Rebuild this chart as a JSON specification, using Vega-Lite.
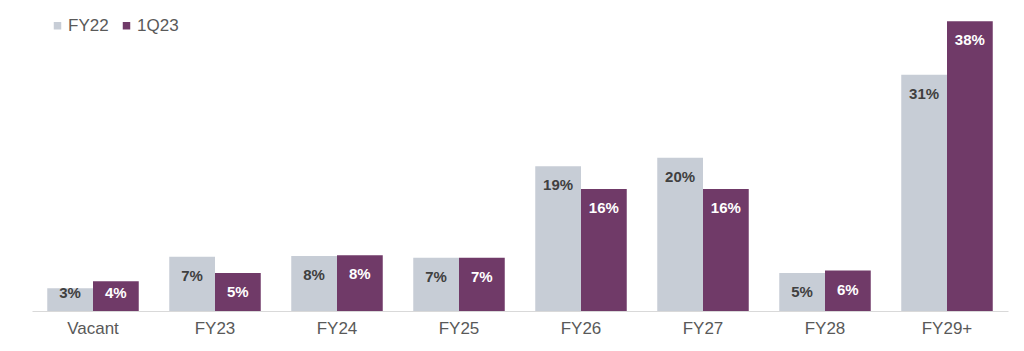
{
  "$schema": "https://vega.github.io/schema/vega-lite/v6.json",
  "autosize": {"type": "none"},
  "width": 976,
  "height": 305,
  "padding": {"left": 32, "top": 6, "right": 16, "bottom": 40},
  "background": "white",
  "config": {"view": {"stroke": null}, "font": "Liberation Sans"},
  "data": {"values": [
    {"cat": "Vacant", "series": "FY22", "value": 3.0, "label": "3%"},
    {"cat": "Vacant", "series": "1Q23", "value": 3.9, "label": "4%"},
    {"cat": "FY23", "series": "FY22", "value": 7.1, "label": "7%"},
    {"cat": "FY23", "series": "1Q23", "value": 5.0, "label": "5%"},
    {"cat": "FY24", "series": "FY22", "value": 7.2, "label": "8%"},
    {"cat": "FY24", "series": "1Q23", "value": 7.3, "label": "8%"},
    {"cat": "FY25", "series": "FY22", "value": 7.0, "label": "7%"},
    {"cat": "FY25", "series": "1Q23", "value": 7.0, "label": "7%"},
    {"cat": "FY26", "series": "FY22", "value": 19.0, "label": "19%"},
    {"cat": "FY26", "series": "1Q23", "value": 16.0, "label": "16%"},
    {"cat": "FY27", "series": "FY22", "value": 20.1, "label": "20%"},
    {"cat": "FY27", "series": "1Q23", "value": 16.0, "label": "16%"},
    {"cat": "FY28", "series": "FY22", "value": 5.0, "label": "5%"},
    {"cat": "FY28", "series": "1Q23", "value": 5.3, "label": "6%"},
    {"cat": "FY29+", "series": "FY22", "value": 31.0, "label": "31%"},
    {"cat": "FY29+", "series": "1Q23", "value": 38.0, "label": "38%"}
  ]},
  "encoding": {
    "x": {
      "field": "cat", "type": "nominal", "sort": null, "title": null,
      "scale": {"paddingInner": 0.25, "paddingOuter": 0.125},
      "axis": {"labelAngle": 0, "ticks": false, "domainColor": "#D9D9D9", "domainWidth": 1, "labelFontSize": 17, "labelColor": "#595959", "labelPadding": 9, "labelFont": "Liberation Sans"}
    },
    "xOffset": {"field": "series", "type": "nominal", "sort": ["FY22", "1Q23"]}
  },
  "layer": [
    {
      "mark": {"type": "bar"},
      "encoding": {
        "y": {"field": "value", "type": "quantitative", "scale": {"domain": [0, 40], "nice": false}, "axis": null},
        "color": {
          "field": "series", "type": "nominal", "sort": ["FY22", "1Q23"],
          "scale": {"domain": ["FY22", "1Q23"], "range": ["#C7CDD6", "#703A68"]},
          "legend": {"title": null, "orient": "none", "legendX": 17, "legendY": 11, "direction": "horizontal", "symbolType": "square", "symbolSize": 56, "symbolStrokeWidth": 0, "labelFontSize": 17, "labelColor": "#595959", "labelFont": "Liberation Sans", "labelOffset": 2, "columnPadding": 9}
        }
      }
    },
    {
      "transform": [{"filter": "datum.value >= 5"}],
      "mark": {"type": "text", "baseline": "middle", "dy": 19, "fontSize": 15, "fontWeight": "bold", "font": "Liberation Sans"},
      "encoding": {
        "y": {"field": "value", "type": "quantitative"},
        "text": {"field": "label"},
        "color": {"field": "series", "type": "nominal", "scale": {"domain": ["FY22", "1Q23"], "range": ["#404040", "#FFFFFF"]}, "legend": null}
      }
    },
    {
      "transform": [{"filter": "datum.value < 5"}],
      "mark": {"type": "text", "baseline": "middle", "dy": -18, "fontSize": 15, "fontWeight": "bold", "font": "Liberation Sans"},
      "encoding": {
        "y": {"datum": 0, "type": "quantitative"},
        "text": {"field": "label"},
        "color": {"field": "series", "type": "nominal", "scale": {"domain": ["FY22", "1Q23"], "range": ["#404040", "#FFFFFF"]}, "legend": null}
      }
    }
  ],
  "resolve": {"scale": {"color": "independent"}}
}
